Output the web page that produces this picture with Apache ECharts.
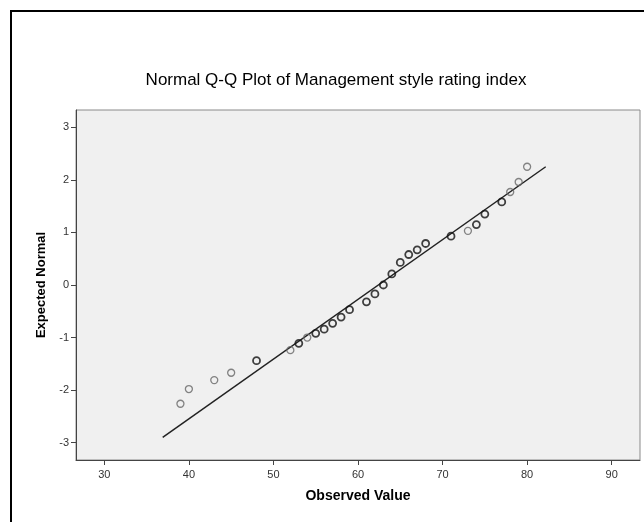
<!DOCTYPE html>
<html>
<head>
<meta charset="utf-8">
<script src="https://cdn.jsdelivr.net/npm/echarts@6/dist/echarts.min.js"></script>
<style>
html,body{margin:0;padding:0;background:#fff;}
#chart{width:644px;height:522px;}
</style>
</head>
<body>
<div id="chart"></div>
<script>
// Observed values and expected normal quantiles (single occurrences, lighter)
const singleObs = [39, 40, 43, 45, 52, 54, 73, 78, 79, 80];
const singleExp = [-2.26, -1.98, -1.81, -1.67, -1.24, -1.00, 1.03, 1.77, 1.96, 2.25];
// Tied observations (drawn darker)
const tiedObs = [48, 53, 55, 56, 57, 58, 59, 61, 62, 63, 64, 65, 66, 67, 68, 71, 74, 75, 77];
const tiedExp = [-1.44, -1.11, -0.92, -0.84, -0.73, -0.61, -0.47, -0.32, -0.17, 0.00, 0.21, 0.43, 0.58, 0.67, 0.79, 0.93, 1.15, 1.35, 1.58];
// Reference line end points
const lineObs = [36.9, 82.2];
const lineExp = [-2.90, 2.25];
// Tick labels
const xTicks = [30, 40, 50, 60, 70, 80, 90];
const yTicks = [-3, -2, -1, 0, 1, 2, 3];

const zip = (a, b) => a.map((v, i) => [v, b[i]]);
const font = '"Liberation Sans", Arial, sans-serif';

const chart = echarts.init(document.getElementById('chart'), null, {renderer: 'canvas'});
chart.setOption({
  animation: false,
  backgroundColor: '#ffffff',
  graphic: [{
    type: 'rect', left: 10, top: 10, z: -10,
    shape: {width: 700, height: 600},
    style: {fill: '#ffffff', stroke: '#000', lineWidth: 2}
  }],
  title: {
    text: 'Normal Q-Q Plot of Management style rating index',
    left: 331, top: 67, textAlign: 'center',
    textStyle: {fontFamily: font, fontSize: 17, fontWeight: 'normal', color: '#000'}
  },
  grid: {
    left: 76, top: 110, right: 4, bottom: 62,
    show: true, backgroundColor: '#f0f0f0', borderColor: '#8a8a8a', borderWidth: 1
  },
  xAxis: {
    type: 'value', min: 26.65, max: 93.35,
    name: 'Observed Value', nameLocation: 'middle', nameGap: 29,
    nameTextStyle: {fontFamily: font, fontSize: 14, fontWeight: 'bold', color: '#000'},
    axisLine: {show: true, onZero: false, lineStyle: {color: '#444', width: 1}},
    axisTick: {show: true, length: 5, customValues: xTicks, lineStyle: {color: '#444'}},
    axisLabel: {customValues: xTicks, fontFamily: font, fontSize: 11, color: '#333', margin: 9},
    splitLine: {show: false}
  },
  yAxis: {
    type: 'value', min: -3.33, max: 3.33,
    name: 'Expected Normal', nameLocation: 'middle', nameGap: 23, nameRotate: 90,
    nameTextStyle: {fontFamily: font, fontSize: 13, fontWeight: 'bold', color: '#000'},
    axisLine: {show: true, onZero: false, lineStyle: {color: '#444', width: 1}},
    axisTick: {show: true, length: 5, customValues: yTicks, lineStyle: {color: '#444'}},
    axisLabel: {customValues: yTicks, fontFamily: font, fontSize: 11, color: '#333', margin: 7},
    splitLine: {show: false}
  },
  series: [
    {
      type: 'line', data: zip(lineObs, lineExp), symbol: 'none',
      lineStyle: {color: '#222', width: 1.5}, z: 1, silent: true
    },
    {
      type: 'scatter', data: zip(singleObs, singleExp), symbol: 'circle', symbolSize: 7,
      itemStyle: {color: 'rgba(0,0,0,0)', borderColor: '#666', borderWidth: 1.3}, z: 2
    },
    {
      type: 'scatter', data: zip(tiedObs, tiedExp), symbol: 'circle', symbolSize: 7,
      itemStyle: {color: 'rgba(0,0,0,0)', borderColor: '#111', borderWidth: 1.8}, z: 3
    }
  ]
});
</script>
</body>
</html>
